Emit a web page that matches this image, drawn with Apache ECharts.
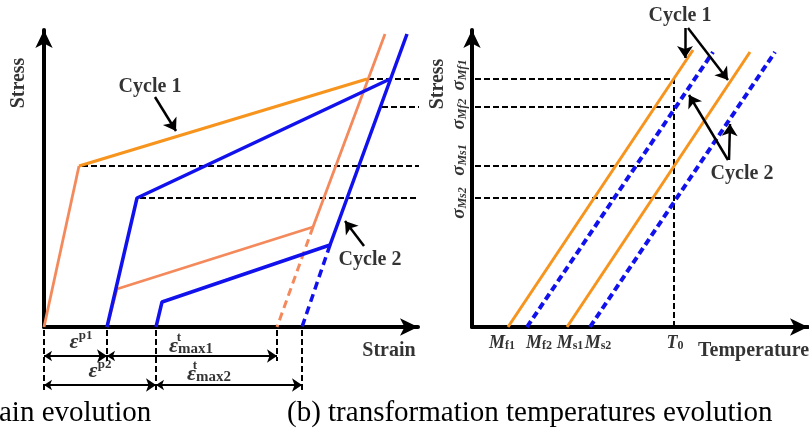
<!DOCTYPE html>
<html>
<head>
<meta charset="utf-8">
<script src="https://cdn.jsdelivr.net/npm/echarts@6/dist/echarts.min.js"></script>
<style>
  html, body { margin: 0; padding: 0; background: #fff; }
  #chart { width: 809px; height: 435px; }
</style>
</head>
<body>
<div id="chart"></div>
<script>
// ---------- (a) stress–strain paths: [strain, stress] in schematic units ----------
const cycle1Loading   = [[0, 0], [35, 161]];
const cycle1Plateau   = [[35, 161], [323, 248]];
const cycle1Unloading = [[341, 293], [269, 100], [73, 38], [63, 0]];
const cycle1Recovery  = [[269, 100], [233, 0]];
const cycle2Loading   = [[63, 0], [93, 129], [346, 248]];
const cycle2Unloading = [[363, 293], [286, 82], [118, 25], [112, 0]];
const cycle2Recovery  = [[286, 82], [258, 0]];

// stress levels sigma_Mf1, sigma_Mf2, sigma_Ms1, sigma_Ms2
const stressLevels     = [248, 220, 161, 129];
const stressLevelsFrom = [324, 338, 38, 96];      // strain where each guide starts in (a)
const sigmaLabels      = ['Mf1', 'Mf2', 'Ms1', 'Ms2'];

// strain marks below the axis: 0, eps_p1, eps_p2, eps_p1+eps_max1, eps_p2+eps_max2
const strainMarks    = [0, 63, 112, 233, 258];
const strainMarkRows = [2, 1, 2, 1, 2];            // how many dimension rows each mark reaches

// ---------- (b) transformation lines: [temperature, stress] ----------
const cycle1Finish = [[36, 0], [221, 277]];
const cycle2Finish = [[55, 0], [241, 275]];
const cycle1Start  = [[95, 0], [278, 275]];
const cycle2Start  = [[118, 0], [303, 275]];
const tempTicks    = [30, 67, 98, 126];            // label centres for Mf1, Mf2, Ms1, Ms2
const tempNames    = ['f1', 'f2', 's1', 's2'];
const T0 = 202;

const serif = 'Liberation Serif';
const ORANGE = '#F7941D';
const SALMON = '#F48A5C';
const BLUE = '#1111EE';

const rich = {
  eps:  { fontFamily: serif, fontStyle: 'italic', fontSize: 22, lineHeight: 24, verticalAlign: 'bottom' },
  sup:  { fontFamily: serif, fontSize: 13, lineHeight: 14, verticalAlign: 'top' },
  sub:  { fontFamily: serif, fontWeight: 'bold', fontSize: 15, lineHeight: 15, verticalAlign: 'bottom' },
  sig:  { fontFamily: serif, fontStyle: 'italic', fontSize: 19, lineHeight: 22, verticalAlign: 'bottom' },
  sigs: { fontFamily: serif, fontStyle: 'italic', fontSize: 12, lineHeight: 12, verticalAlign: 'bottom' },
  M:    { fontFamily: serif, fontStyle: 'italic', fontWeight: 'bold', fontSize: 18, lineHeight: 20, verticalAlign: 'bottom' },
  Ms:   { fontFamily: serif, fontWeight: 'bold', fontSize: 12, lineHeight: 11, verticalAlign: 'bottom' },
  tsm:  { fontFamily: serif, fontWeight: 'bold', fontSize: 13 }
};

function path(grid, data, color, width, dash, z) {
  return {
    type: 'line', xAxisIndex: grid, yAxisIndex: grid, data: data,
    symbol: 'none', silent: true, clip: false, animation: false, z: z || 3,
    lineStyle: { color: color, width: width, type: dash || 'solid', cap: 'butt' }
  };
}

function arrows(grid, segs, both, width, size) {
  return {
    type: 'lines', coordinateSystem: 'cartesian2d', xAxisIndex: grid, yAxisIndex: grid,
    silent: true, clip: false, animation: false, z: 6,
    symbol: both ? ['arrow', 'arrow'] : ['none', 'arrow'], symbolSize: size,
    lineStyle: { color: '#000', width: width, opacity: 1, curveness: 0 },
    data: segs.map(s => ({ coords: s }))
  };
}

function texts(grid, items) {
  return {
    type: 'scatter', xAxisIndex: grid, yAxisIndex: grid, symbolSize: 0,
    silent: true, clip: false, animation: false, z: 7,
    data: items.map(it => ({
      value: [it.x, it.y],
      label: {
        show: true, position: 'inside', formatter: it.text,
        rotate: it.rotate || 0, align: it.align || 'center', verticalAlign: 'middle',
        color: '#000', fontFamily: serif, fontSize: 20, fontWeight: 'bold', rich: rich
      }
    }))
  };
}

function axisPair(grid, max) {
  return {
    gridIndex: grid, type: 'value', min: 0, max: max,
    axisLine: { show: true, onZero: false, symbol: ['none', 'arrow'], symbolSize: [13, 18],
                lineStyle: { color: '#000', width: 4 } },
    axisTick: { show: false }, axisLabel: { show: false }, splitLine: { show: false }
  };
}

const series = [];

// guide lines in (a), continued past the strain axis toward (b)
stressLevels.forEach((s, i) => {
  series.push(path(0, [[stressLevelsFrom[i], s], [403, s]], '#000', 2, [6, 3], 1));
  series.push(path(1, [[3, s], [T0, s]], '#000', 2, [6, 3], 1));
});
series.push(path(1, [[T0, 0], [T0, stressLevels[0]]], '#000', 2, [6, 3], 1));
strainMarks.forEach((m, i) => {
  const bottom = strainMarkRows[i] === 2 ? -63 : -34;
  series.push(path(0, [[m, -3], [m, bottom]], '#000', 2, [6, 3], 1));
});

// (a) cycle 1 then cycle 2
series.push(path(0, cycle1Unloading, SALMON, 2.8));
series.push(path(0, cycle1Recovery, SALMON, 3, [8, 5]));
series.push(path(0, cycle1Loading, SALMON, 2.8));
series.push(path(0, cycle1Plateau, ORANGE, 3.2));
series.push(path(0, cycle2Loading, BLUE, 3.5, 'solid', 4));
series.push(path(0, cycle2Unloading, BLUE, 3.5, 'solid', 4));
series.push(path(0, cycle2Recovery, BLUE, 3.5, [8, 5], 4));

// (b) martensite start / finish lines
series.push(path(1, cycle1Finish, ORANGE, 3));
series.push(path(1, cycle2Finish, BLUE, 4, [7, 4]));
series.push(path(1, cycle1Start, ORANGE, 3));
series.push(path(1, cycle2Start, BLUE, 4, [7, 4]));

// dimension arrows under the strain axis
series.push(arrows(0, [
  [[0, -29], [63, -29]], [[63, -29], [233, -29]],
  [[0, -58], [112, -58]], [[112, -58], [258, -58]]
], true, 2, [8, 10]));

// pointers to the cycles
series.push(arrows(0, [[[111, 230], [132, 196]], [[320, 81], [301, 106]]], false, 2.5, [9, 12]));
series.push(arrows(1, [
  [[213, 299], [213, 269]], [[216, 299], [256, 247]],
  [[256, 167], [217, 232]], [[257, 167], [258, 203]]
], false, 2.5, [9, 12]));

series.push(texts(0, [
  { x: -25, y: 244, text: 'Stress', rotate: 90 },
  { x: 106, y: 240, text: 'Cycle 1' },
  { x: 326, y: 67, text: 'Cycle 2' },
  { x: 345, y: -24, text: 'Strain' },
  { x: 37, y: -14, text: '{eps|ε}{sup|p1}' },
  { x: 147, y: -18, text: '{eps|ε}{sub|max1}' },
  { x: 135, y: -11, text: '{tsm|t}' },
  { x: 56, y: -43, text: '{eps|ε}{sup|p2}' },
  { x: 165, y: -46, text: '{eps|ε}{sub|max2}' },
  { x: 151, y: -39, text: '{tsm|t}' }
]));

const sigmaY = [252, 213, 167, 124];
series.push(texts(1, [
  { x: -34, y: 243, text: 'Stress', rotate: 90 },
  { x: 208, y: 311, text: 'Cycle 1' },
  { x: 270, y: 153, text: 'Cycle 2' },
  { x: 226, y: -24, text: 'Temperature', align: 'left' },
  { x: T0 + 1, y: -15, text: '{M|T}{Ms|0}' }
].concat(
  sigmaLabels.map((s, i) => ({ x: -14, y: sigmaY[i], text: '{sig|σ}{sigs|' + s + '}', rotate: 90 })),
  tempNames.map((n, i) => ({ x: tempTicks[i], y: -15, text: '{M|M}{Ms|' + n + '}' }))
)));

const captionStyle = { fontFamily: serif, fontSize: 29, fontWeight: 'normal', color: '#000' };

const chart = echarts.init(document.getElementById('chart'), null, { renderer: 'canvas' });
chart.setOption({
  animation: false,
  backgroundColor: '#fff',
  title: [
    { text: 'ain evolution', left: -1, top: 399, padding: 0, textStyle: captionStyle },
    { text: '(b) transformation temperatures evolution', left: 287, top: 399, padding: 0, textStyle: captionStyle }
  ],
  grid: [
    { left: 44, top: 30, width: 374, height: 297, containLabel: false, outerBoundsMode: 'none' },
    { left: 472, top: 30, width: 336, height: 297, containLabel: false, outerBoundsMode: 'none' }
  ],
  xAxis: [axisPair(0, 374), axisPair(1, 336)],
  yAxis: [axisPair(0, 297), axisPair(1, 297)],
  series: series
});
</script>
</body>
</html>
